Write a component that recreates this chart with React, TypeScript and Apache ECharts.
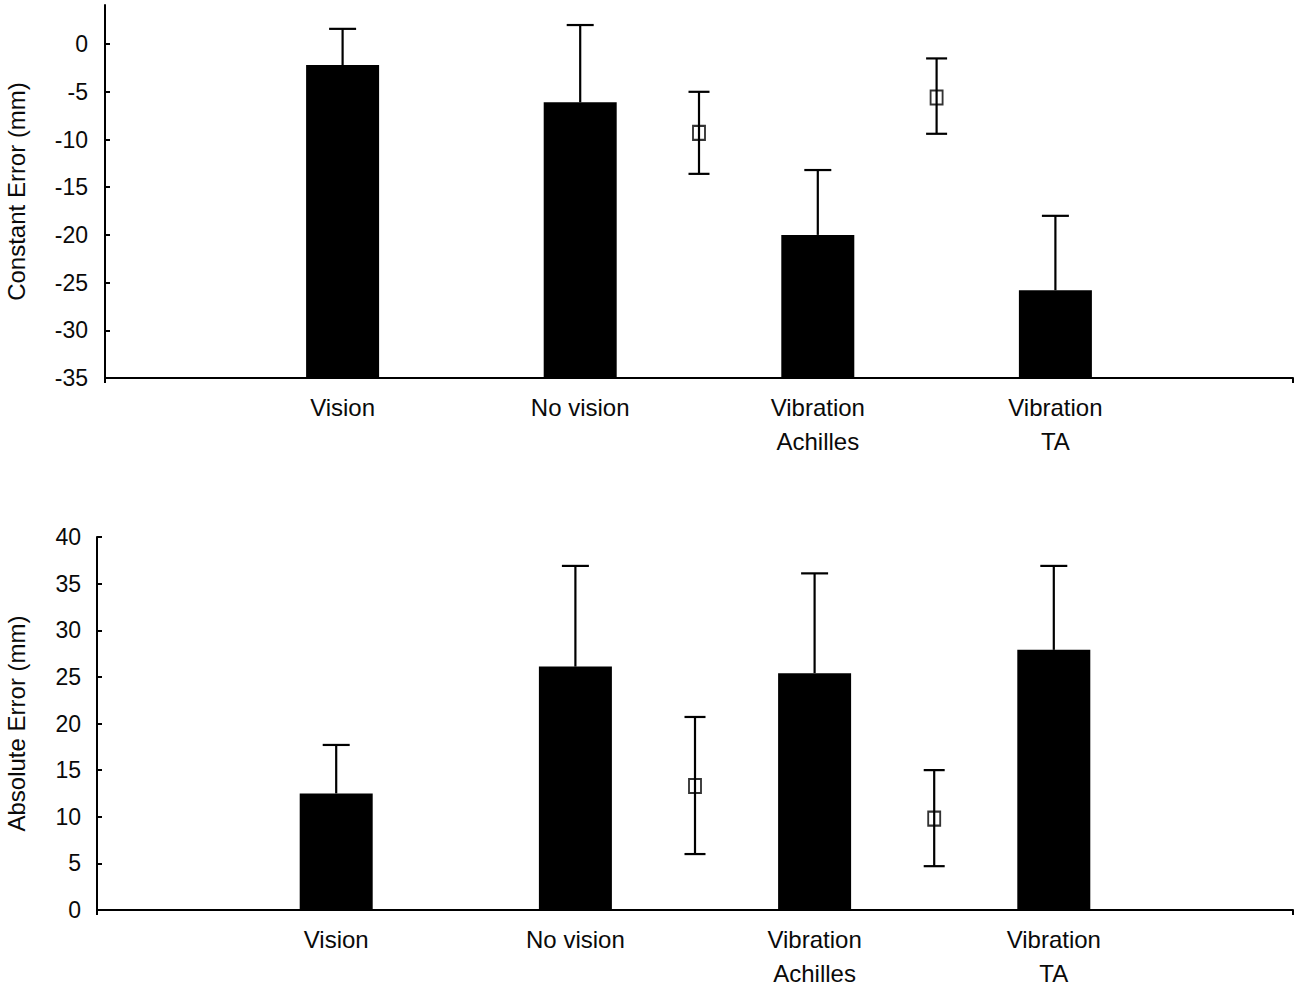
import React, { useEffect, useRef } from "react";
import * as echarts from "echarts";

// ---- data ----
const categories = ["Vision", "No vision", "Vibration\nAchilles", "Vibration\nTA"];
const categoryPositions = [1, 2, 3, 4];
const markerPositions = [2.5, 3.5];

// Constant error (top panel)
const constantMeans = [-2.2, -6.1, -20.0, -25.8];
const constantUpper = [1.6, 2.0, -13.2, -18.0];
const constantMarkerMeans = [-9.3, -5.6];
const constantMarkerLow = [-13.6, -9.4];
const constantMarkerHigh = [-5.0, -1.5];
const constantTicks = [-35, -30, -25, -20, -15, -10, -5, 0];

// Absolute error (bottom panel)
const absoluteMeans = [12.5, 26.1, 25.4, 27.9];
const absoluteUpper = [17.7, 36.9, 36.1, 36.9];
const absoluteMarkerMeans = [13.3, 9.8];
const absoluteMarkerLow = [6.0, 4.7];
const absoluteMarkerHigh = [20.7, 15.0];

const FONT = "'Liberation Sans', Arial, sans-serif";
const INK = "#000";
const TEXT = "#0a0a0a";

function barSeries(idx: number, means: number[], base: number) {
  return {
    type: "custom",
    xAxisIndex: idx,
    yAxisIndex: idx,
    data: categoryPositions.map((p, i) => [p, means[i]]),
    renderItem: (params: any, api: any) => {
      const top = api.coord([api.value(0), api.value(1)]);
      const bot = api.coord([api.value(0), base]);
      const w = 73;
      return {
        type: "rect",
        shape: { x: top[0] - w / 2, y: top[1], width: w, height: bot[1] - top[1] },
        style: { fill: INK },
      };
    },
  };
}

function errorSeries(idx: number, xs: number[], lows: number[], highs: number[], cap: number, bothCaps: boolean) {
  return {
    type: "custom",
    xAxisIndex: idx,
    yAxisIndex: idx,
    data: xs.map((x, i) => [x, lows[i], highs[i]]),
    renderItem: (params: any, api: any) => {
      const lo = api.coord([api.value(0), api.value(1)]);
      const hi = api.coord([api.value(0), api.value(2)]);
      const st = { stroke: INK, lineWidth: 2.2 };
      const children: any[] = [
        { type: "line", shape: { x1: lo[0], y1: lo[1], x2: hi[0], y2: hi[1] }, style: st },
        { type: "line", shape: { x1: hi[0] - cap / 2, y1: hi[1], x2: hi[0] + cap / 2, y2: hi[1] }, style: st },
      ];
      if (bothCaps) {
        children.push({ type: "line", shape: { x1: lo[0] - cap / 2, y1: lo[1], x2: lo[0] + cap / 2, y2: lo[1] }, style: st });
      }
      return { type: "group", children };
    },
  };
}

function markerSeries(idx: number, means: number[]) {
  return {
    type: "scatter",
    xAxisIndex: idx,
    yAxisIndex: idx,
    data: markerPositions.map((p, i) => [p, means[i]]),
    symbol: "rect",
    symbolSize: [12, 14],
    itemStyle: { color: "rgba(255,255,255,0)", borderColor: INK, borderWidth: 2 },
    z: 5,
  };
}

function xAxisDef(idx: number) {
  return {
    type: "value",
    gridIndex: idx,
    min: 0,
    max: 5,
    interval: 5,
    splitLine: { show: false },
    axisLine: { show: true, onZero: false, lineStyle: { color: INK, width: 2 } },
    axisTick: { show: true, customValues: [0, 5], length: 5, lineStyle: { color: INK, width: 2 } },
    axisLabel: {
      customValues: categoryPositions,
      formatter: (v: number) => {
        const i = categoryPositions.indexOf(Math.round(v));
        return i >= 0 ? categories[i] : "";
      },
      color: TEXT,
      fontFamily: FONT,
      fontSize: 24,
      lineHeight: 34,
      margin: 12,
    },
  };
}

export default function App() {
  const ref = useRef<HTMLDivElement>(null);
  useEffect(() => {
    const chart = echarts.init(ref.current!, undefined, { renderer: "svg" });
    chart.setOption({
      animation: false,
      backgroundColor: "#fff",
      grid: [
        { left: 105, top: 5, width: 1188, height: 373, containLabel: false, outerBoundsMode: "none" },
        { left: 97, top: 537, width: 1196, height: 373, containLabel: false, outerBoundsMode: "none" },
      ],
      xAxis: [xAxisDef(0), xAxisDef(1)],
      yAxis: [
        {
          type: "value",
          gridIndex: 0,
          min: -35,
          max: 4.1,
          name: "Constant Error (mm)",
          nameLocation: "middle",
          nameRotate: 90,
          nameGap: 77,
          nameTextStyle: { color: TEXT, fontFamily: FONT, fontSize: 24 },
          splitLine: { show: false },
          axisLine: { show: true, onZero: false, lineStyle: { color: INK, width: 2 } },
          axisTick: { show: true, inside: true, length: 5, customValues: constantTicks, lineStyle: { color: INK, width: 2 } },
          axisLabel: { customValues: constantTicks, color: TEXT, fontFamily: FONT, fontSize: 23, margin: 17 },
        },
        {
          type: "value",
          gridIndex: 1,
          min: 0,
          max: 40,
          interval: 5,
          name: "Absolute Error (mm)",
          nameLocation: "middle",
          nameRotate: 90,
          nameGap: 69,
          nameTextStyle: { color: TEXT, fontFamily: FONT, fontSize: 24 },
          splitLine: { show: false },
          axisLine: { show: true, onZero: false, lineStyle: { color: INK, width: 2 } },
          axisTick: { show: true, inside: true, length: 5, lineStyle: { color: INK, width: 2 } },
          axisLabel: { color: TEXT, fontFamily: FONT, fontSize: 23, margin: 16 },
        },
      ],
      series: [
        errorSeries(0, categoryPositions, constantMeans, constantUpper, 27, false),
        barSeries(0, constantMeans, -35),
        errorSeries(0, markerPositions, constantMarkerLow, constantMarkerHigh, 21, true),
        markerSeries(0, constantMarkerMeans),
        errorSeries(1, categoryPositions, absoluteMeans, absoluteUpper, 27, false),
        barSeries(1, absoluteMeans, 0),
        errorSeries(1, markerPositions, absoluteMarkerLow, absoluteMarkerHigh, 21, true),
        markerSeries(1, absoluteMarkerMeans),
      ],
    });
    return () => chart.dispose();
  }, []);
  return (
    <div
      ref={ref}
      style={{ position: "fixed", left: 0, top: 0, width: 1300, height: 987, background: "#fff" }}
    />
  );
}
